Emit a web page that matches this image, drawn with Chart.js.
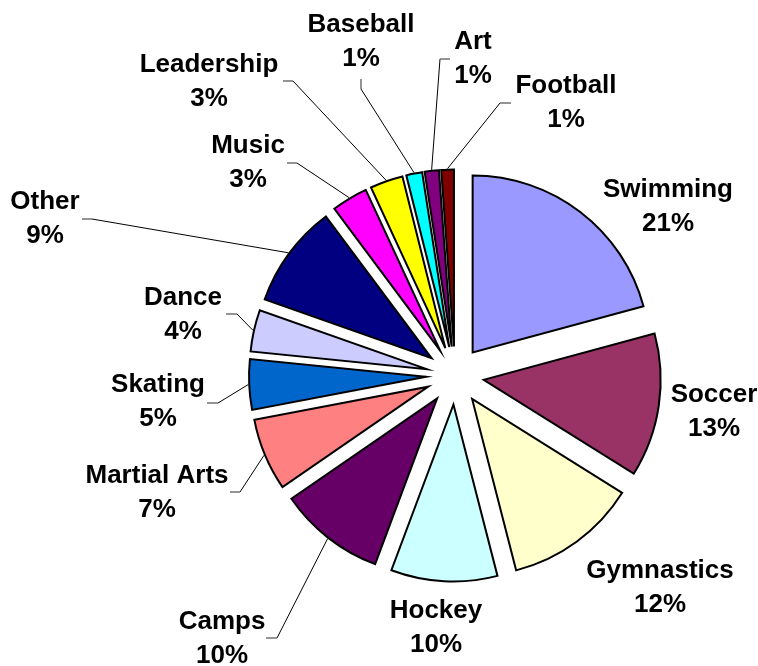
<!DOCTYPE html>
<html><head><meta charset="utf-8">
<script src="https://cdn.jsdelivr.net/npm/chart.js@4/dist/chart.umd.min.js"></script>
<style>html,body{margin:0;padding:0;background:#fff;overflow:hidden}#wrap{width:758px;height:666px;position:relative}</style>
</head><body><div id="wrap"><canvas id="c" width="758" height="666"></canvas></div>
<script>
// ---- data ----
const categories = ['Swimming','Soccer','Gymnastics','Hockey','Camps','Martial Arts','Skating','Dance','Other','Music','Leadership','Baseball','Art','Football'];
const shares = [20.8, 13.1, 12.1, 9.7, 9.7, 6.6, 4.6, 3.8, 9.4, 3.3, 3.0, 1.45, 1.3, 1.15];
const sliceColors = ['#9999FF','#993366','#FFFFCC','#CCFFFF','#660066','#FF8080','#0066CC','#CCCCFF','#000080','#FF00FF','#FFFF00','#00FFFF','#800080','#800000'];

// ---- label layout (text anchor = centre x / first baseline; optional leader elbow + stub end) ----
const labelLayout = [
  {x:668, y:197},
  {x:714, y:402},
  {x:660, y:578},
  {x:436, y:618},
  {x:222, y:629, elbow:[277,638], stub:[266,638]},
  {x:157, y:483, elbow:[240,492], stub:[230,492]},
  {x:158, y:392, elbow:[218,403], stub:[207,403]},
  {x:183, y:305, elbow:[237,314], stub:[226,314]},
  {x:45,  y:209, elbow:[92,219],  stub:[82,219]},
  {x:248, y:153, elbow:[297,163], stub:[287,163]},
  {x:209, y:72,  elbow:[293,81],  stub:[283,81]},
  {x:361, y:32,  elbow:[361,89],  stub:[361,79]},
  {x:473, y:49,  elbow:[440,59],  stub:[450,59]},
  {x:566, y:93,  elbow:[500,103], stub:[511,103]}
];

const total = shares.reduce((a,b)=>a+b,0);

const explodePlugin = {
  id: 'explode',
  afterDatasetsUpdate(chart, args, opts) {
    chart.getDatasetMeta(0).data.forEach(el => {
      const mid = (el.startAngle + el.endAngle) / 2;
      el.x += Math.cos(mid) * opts.distance;
      el.y += Math.sin(mid) * opts.distance;
    });
  }
};

const labelPlugin = {
  id: 'sliceLabels',
  afterDatasetsDraw(chart) {
    const ctx = chart.ctx;
    const meta = chart.getDatasetMeta(0);
    ctx.save();
    meta.data.forEach((el, i) => {
      const lay = labelLayout[i];
      if (lay.elbow) {
        const mid = (el.startAngle + el.endAngle) / 2;
        const sx = el.x + Math.cos(mid) * (el.outerRadius + 1);
        const sy = el.y + Math.sin(mid) * (el.outerRadius + 1);
        ctx.beginPath();
        ctx.strokeStyle = '#000';
        ctx.lineWidth = 1;
        ctx.moveTo(sx, sy);
        ctx.lineTo(lay.elbow[0], lay.elbow[1]);
        ctx.stroke();
        ctx.beginPath();
        ctx.strokeStyle = '#707070';
        ctx.lineWidth = 1.5;
        ctx.moveTo(lay.elbow[0], lay.elbow[1]);
        ctx.lineTo(lay.stub[0], lay.stub[1]);
        ctx.stroke();
      }
      ctx.fillStyle = '#000';
      ctx.font = "bold 26px 'Liberation Sans', Arial, sans-serif";
      ctx.textAlign = 'center';
      ctx.textBaseline = 'alphabetic';
      ctx.fillText(categories[i], lay.x, lay.y);
      ctx.fillText(Math.round(shares[i] / total * 100) + '%', lay.x, lay.y + 34);
    });
    ctx.restore();
  }
};

new Chart(document.getElementById('c'), {
  type: 'pie',
  data: {
    labels: categories,
    datasets: [{
      data: shares,
      backgroundColor: sliceColors,
      borderColor: '#000',
      borderWidth: 2,
      borderJoinStyle: 'miter'
    }]
  },
  options: {
    responsive: false,
    animation: false,
    radius: 177,
    layout: { padding: { left: 152, top: 85, right: 0, bottom: 0 } },
    plugins: {
      legend: { display: false },
      tooltip: { enabled: false },
      explode: { distance: 29 }
    },
    events: []
  },
  plugins: [explodePlugin, labelPlugin]
});
</script>
</body></html>
